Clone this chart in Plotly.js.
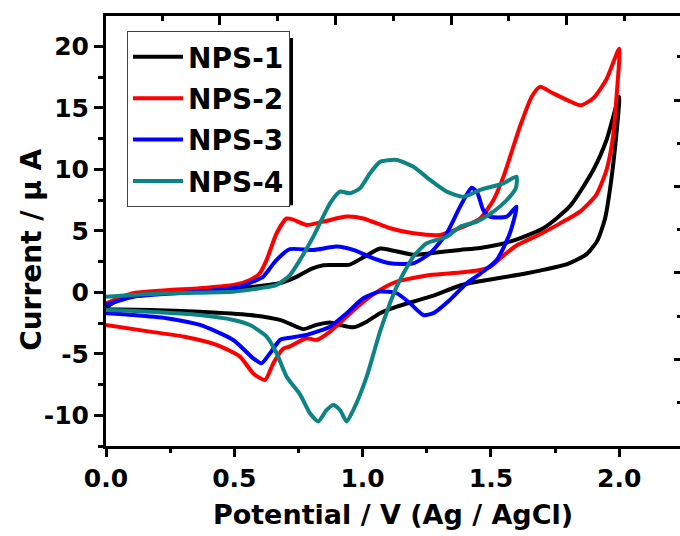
<!DOCTYPE html>
<html>
<head>
<meta charset="utf-8">
<script src="https://cdn.plot.ly/plotly-3.0.1.min.js"></script>
<style>html,body{margin:0;padding:0;overflow:hidden;background:#fff}</style>
</head>
<body>
<div id="chart" style="width:680px;height:536px"></div>
<script>
// ---- data (Potential V vs Ag/AgCl, Current µA) ----
const nps1X = [0,0.05,0.15,0.3,0.45,0.56,0.68,0.744,0.80,0.847,0.95,1.0,1.068,1.107,1.198,1.263,1.38,1.458,1.574,1.704,1.808,1.899,1.951,2.0,
  1.985,1.965,1.945,1.915,1.873,1.8,1.64,1.445,1.38,1.263,1.133,1.068,1.016,0.964,0.912,0.873,0.82,0.77,0.72,0.678,0.561,0.366,0.171,0];
const nps1Y = [-1.25,-0.6,-0.2,0.0,0.15,0.4,0.75,1.27,1.9,2.2,2.25,2.8,3.55,3.44,3.05,3.17,3.44,3.6,4.11,5.2,7.0,9.94,12.4,15.9,
  12.0,8.5,6.0,4.2,3.1,2.3,1.54,0.86,0.55,-0.36,-1.17,-1.7,-2.39,-2.85,-2.66,-2.45,-2.65,-3.0,-2.6,-2.25,-1.85,-1.58,-1.44,-1.38];

const nps2X = [0,0.105,0.366,0.496,0.561,0.6,0.626,0.665,0.704,0.73,0.782,0.847,0.938,1.003,1.107,1.198,1.302,1.393,1.458,1.51,1.549,1.613,1.659,1.691,1.74,1.8,1.85,1.9,1.95,2.0,
  1.99,1.975,1.95,1.91,1.85,1.77,1.68,1.6,1.55,1.5,1.458,1.38,1.263,1.133,1.068,1.003,0.938,0.873,0.821,0.782,0.717,0.69,0.652,0.62,0.574,0.522,0.431,0.301,0.171,0];
const nps2Y = [-0.9,-0.08,0.33,0.59,1.0,1.57,2.63,4.8,6.0,5.9,5.47,5.74,6.15,6.0,5.2,4.8,4.66,5.33,6.0,7.5,9.4,13.46,15.9,16.7,16.2,15.6,15.2,15.8,17.3,19.8,
  16.0,12.5,9.9,7.9,6.6,5.6,4.6,3.8,3.0,2.1,1.81,1.6,1.4,0.86,0.19,-0.76,-1.98,-3.2,-3.88,-3.74,-4.4,-4.6,-5.77,-7.13,-6.6,-5.23,-4.28,-3.6,-3.2,-2.66];

const nps3X = [0,0.106,0.366,0.522,0.613,0.626,0.665,0.717,0.808,0.899,0.964,1.042,1.107,1.198,1.263,1.328,1.38,1.425,1.447,1.47,1.496,1.562,1.6,
  1.574,1.523,1.458,1.406,1.34,1.276,1.237,1.185,1.133,1.068,1.003,0.938,0.873,0.782,0.70,0.678,0.639,0.606,0.574,0.496,0.366,0.236,0.106,0];
const nps3Y = [-1.03,-0.36,0.05,0.46,1.27,1.6,2.63,3.5,3.44,3.71,3.44,2.76,2.36,2.36,3.17,4.8,6.96,8.5,8.1,6.7,6.15,6.15,6.96,
  4.8,2.63,1.5,0.73,-0.63,-1.7,-1.85,-0.9,-0.08,0.05,-0.49,-1.71,-2.8,-3.47,-3.75,-3.88,-4.96,-5.77,-5.37,-3.88,-2.66,-2.11,-1.85,-1.71];

const nps4X = [0,0.236,0.496,0.6,0.665,0.717,0.756,0.808,0.873,0.912,0.951,0.99,1.029,1.068,1.133,1.198,1.263,1.328,1.393,1.458,1.549,1.6,
  1.597,1.562,1.51,1.445,1.38,1.328,1.25,1.198,1.133,1.068,1.016,0.964,0.938,0.912,0.886,0.86,0.827,0.795,0.756,0.704,0.665,0.626,0.561,0.496,0.366,0.171,0];
const nps4Y = [-0.36,-0.08,0.05,0.33,0.6,1.4,2.63,4.52,7.23,8.18,8.05,8.46,9.67,10.6,10.76,10.2,9.13,8.18,7.77,8.32,8.86,9.4,
  8.46,7.5,6.55,5.74,5.33,4.52,3.98,2.9,0.46,-3.2,-6.86,-9.57,-10.5,-9.57,-9.16,-9.57,-10.5,-9.84,-8.3,-6.86,-4.96,-3.6,-2.66,-2.25,-1.85,-1.58,-1.44];

const seriesNames = ["NPS-1","NPS-2","NPS-3","NPS-4"];
const seriesColors = ["#000000","#ff0000","#0000ff","#0e8383"];

const xTickVals = [0,0.5,1.0,1.5,2.0];
const xTickText = ["0.0","0.5","1.0","1.5","2.0"];
const yTickVals = [-10,-5,0,5,10,15,20];
const yTickText = ["-10","-5","0","5","10","15","20"];

const xTitle = "Potential / V (Ag / AgCl)";
const yTitle = "Current / \u03bc A";

// ---- build ----
const xs = [nps1X,nps2X,nps3X,nps4X];
const ys = [nps1Y,nps2Y,nps3Y,nps4Y];
const traces = seriesNames.map((n,i)=>({
  x: xs[i], y: ys[i], name: n, type:'scatter', mode:'lines',
  legendgroup: 'g'+i,
  line:{color:seriesColors[i], width:4, shape:'spline', smoothing:0.6}
}));

const FONT = "DejaVu Sans, Arial, sans-serif";
const XR = [0, 2.237], YR = [-12.5, 22.46];

const layout = {
  width:680, height:536,
  margin:{l:106, r:0, t:16, b:90, pad:0},
  paper_bgcolor:'#fff', plot_bgcolor:'#fff',
  font:{family:FONT, size:25, color:'#000', weight:'bold'},
  showlegend:true,
  legend:{x:0.0366, y:0.965, xanchor:'left', yanchor:'top',
    bgcolor:'#fff', bordercolor:'#444', borderwidth:1,
    font:{family:FONT, size:28, color:'#000', weight:'bold'},
    tracegroupgap:2, itemwidth:50},
  xaxis:{range:XR, showline:true, linewidth:3, linecolor:'#000', mirror:false,
    ticks:'outside', ticklen:8, tickwidth:3, tickcolor:'#000',
    tickvals:xTickVals, ticktext:xTickText,
    minor:{dtick:0.25, tick0:0, ticks:'outside', ticklen:4, tickwidth:3, tickcolor:'#000', showgrid:false},
    showgrid:false, zeroline:false,
    tickfont:{family:FONT, size:25, color:'#000', weight:'bold'},
    title:{text:xTitle, font:{family:FONT, size:27, color:'#000', weight:'bold'}, standoff:14}},
  yaxis:{range:YR, showline:true, linewidth:3, linecolor:'#000', mirror:false,
    ticks:'outside', ticklen:9, tickwidth:3, tickcolor:'#000',
    tickvals:yTickVals, ticktext:yTickText,
    minor:{dtick:2.5, tick0:0, ticks:'outside', ticklen:5, tickwidth:3, tickcolor:'#000', showgrid:false},
    showgrid:false, zeroline:false,
    tickfont:{family:FONT, size:25, color:'#000', weight:'bold'}},
  xaxis2:{overlaying:'x', side:'top', anchor:'y', range:XR, showline:true, linewidth:3, linecolor:'#000',
    ticks:'inside', ticklen:9, tickwidth:3, tickcolor:'#000', tick0:0.444, dtick:0.4505,
    minor:{dtick:0.22525, tick0:0.444, ticks:'inside', ticklen:5, tickwidth:3, tickcolor:'#000', showgrid:false},
    showticklabels:false, showgrid:false, zeroline:false},
  yaxis2:{overlaying:'y', side:'right', anchor:'x', range:YR, showline:false,
    ticks:'inside', ticklen:6, tickwidth:3, tickcolor:'#000', tick0:15.63, dtick:7.03,
    minor:{dtick:3.515, tick0:15.63, ticks:'inside', ticklen:3, tickwidth:3, tickcolor:'#000', showgrid:false},
    showticklabels:false, showgrid:false, zeroline:false},
  shapes:[{type:'rect', xref:'paper', yref:'paper', x0:0.047, x1:0.3258, y0:0.560, y1:0.949,
    fillcolor:'#000', line:{width:0}, layer:'above'}],
  annotations:[{text:yTitle, xref:'paper', yref:'paper', x:-0.129, y:0.456, xanchor:'center', yanchor:'middle',
    textangle:-90, showarrow:false, font:{family:FONT, size:28, color:'#000', weight:'bold'}}]
};

// invisible helper trace so the top/right frame axes are drawn
traces.push({x:[0], y:[0], xaxis:'x2', yaxis:'y2', mode:'markers', marker:{opacity:0}, showlegend:false, hoverinfo:'skip'});

Plotly.newPlot('chart', traces, layout, {staticPlot:true, displayModeBar:false});
</script>
</body>
</html>
